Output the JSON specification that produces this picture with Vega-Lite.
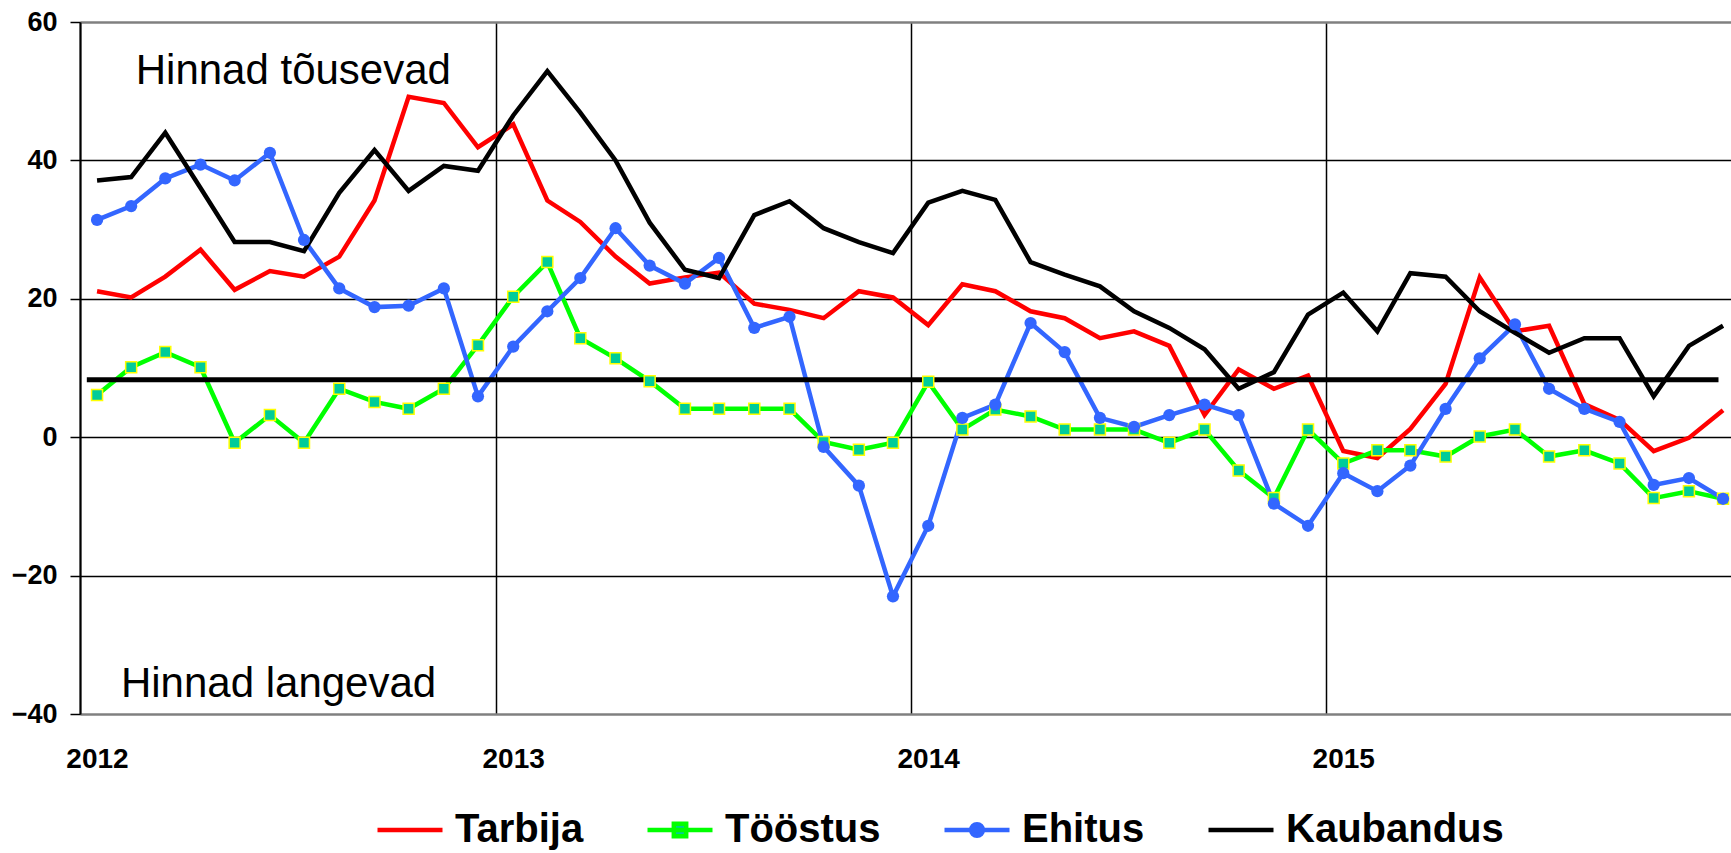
{
  "$schema": "https://vega.github.io/schema/vega-lite/v6.json",
  "autosize": {"type": "none"},
  "width": 1651,
  "height": 692,
  "padding": {"left": 80, "top": 22, "right": 0, "bottom": 139},
  "background": "white",
  "config": {"view": {"stroke": null}},
  "datasets": {
    "series": [
      {"month": "2012-01-16", "Tarbija": 21.1, "Tööstus": 6.1, "Ehitus": 31.4, "Kaubandus": 37.1},
      {"month": "2012-02-15", "Tarbija": 20.2, "Tööstus": 10.1, "Ehitus": 33.4, "Kaubandus": 37.6},
      {"month": "2012-03-16", "Tarbija": 23.2, "Tööstus": 12.3, "Ehitus": 37.4, "Kaubandus": 44.0},
      {"month": "2012-04-16", "Tarbija": 27.1, "Tööstus": 10.1, "Ehitus": 39.4, "Kaubandus": 36.0},
      {"month": "2012-05-16", "Tarbija": 21.3, "Tööstus": -0.8, "Ehitus": 37.1, "Kaubandus": 28.2},
      {"month": "2012-06-16", "Tarbija": 24.0, "Tööstus": 3.2, "Ehitus": 41.1, "Kaubandus": 28.2},
      {"month": "2012-07-16", "Tarbija": 23.2, "Tööstus": -0.8, "Ehitus": 28.5, "Kaubandus": 26.9},
      {"month": "2012-08-16", "Tarbija": 26.1, "Tööstus": 7.0, "Ehitus": 21.5, "Kaubandus": 35.3},
      {"month": "2012-09-16", "Tarbija": 34.2, "Tööstus": 5.1, "Ehitus": 18.8, "Kaubandus": 41.5},
      {"month": "2012-10-16", "Tarbija": 49.2, "Tööstus": 4.1, "Ehitus": 19.0, "Kaubandus": 35.6},
      {"month": "2012-11-16", "Tarbija": 48.3, "Tööstus": 7.0, "Ehitus": 21.5, "Kaubandus": 39.2},
      {"month": "2012-12-16", "Tarbija": 41.9, "Tööstus": 13.3, "Ehitus": 5.9, "Kaubandus": 38.5},
      {"month": "2013-01-16", "Tarbija": 45.2, "Tööstus": 20.3, "Ehitus": 13.1, "Kaubandus": 46.5},
      {"month": "2013-02-15", "Tarbija": 34.2, "Tööstus": 25.3, "Ehitus": 18.2, "Kaubandus": 52.9},
      {"month": "2013-03-16", "Tarbija": 31.1, "Tööstus": 14.3, "Ehitus": 23.0, "Kaubandus": 46.9},
      {"month": "2013-04-16", "Tarbija": 26.1, "Tööstus": 11.4, "Ehitus": 30.2, "Kaubandus": 40.0},
      {"month": "2013-05-16", "Tarbija": 22.2, "Tööstus": 8.1, "Ehitus": 24.8, "Kaubandus": 31.0},
      {"month": "2013-06-16", "Tarbija": 23.1, "Tööstus": 4.1, "Ehitus": 22.2, "Kaubandus": 24.2},
      {"month": "2013-07-16", "Tarbija": 23.8, "Tööstus": 4.1, "Ehitus": 25.9, "Kaubandus": 23.0},
      {"month": "2013-08-16", "Tarbija": 19.3, "Tööstus": 4.1, "Ehitus": 15.8, "Kaubandus": 32.1},
      {"month": "2013-09-16", "Tarbija": 18.4, "Tööstus": 4.1, "Ehitus": 17.4, "Kaubandus": 34.1},
      {"month": "2013-10-16", "Tarbija": 17.2, "Tööstus": -0.7, "Ehitus": -1.4, "Kaubandus": 30.2},
      {"month": "2013-11-16", "Tarbija": 21.1, "Tööstus": -1.8, "Ehitus": -7.0, "Kaubandus": 28.2},
      {"month": "2013-12-16", "Tarbija": 20.2, "Tööstus": -0.8, "Ehitus": -23.0, "Kaubandus": 26.6},
      {"month": "2014-01-16", "Tarbija": 16.2, "Tööstus": 8.0, "Ehitus": -12.8, "Kaubandus": 33.9},
      {"month": "2014-02-15", "Tarbija": 22.1, "Tööstus": 1.1, "Ehitus": 2.8, "Kaubandus": 35.6},
      {"month": "2014-03-16", "Tarbija": 21.1, "Tööstus": 4.0, "Ehitus": 4.7, "Kaubandus": 34.3},
      {"month": "2014-04-16", "Tarbija": 18.2, "Tööstus": 3.0, "Ehitus": 16.5, "Kaubandus": 25.3},
      {"month": "2014-05-16", "Tarbija": 17.2, "Tööstus": 1.1, "Ehitus": 12.3, "Kaubandus": 23.5},
      {"month": "2014-06-16", "Tarbija": 14.3, "Tööstus": 1.1, "Ehitus": 2.8, "Kaubandus": 21.8},
      {"month": "2014-07-16", "Tarbija": 15.3, "Tööstus": 1.1, "Ehitus": 1.5, "Kaubandus": 18.2},
      {"month": "2014-08-16", "Tarbija": 13.2, "Tööstus": -0.8, "Ehitus": 3.2, "Kaubandus": 15.8},
      {"month": "2014-09-16", "Tarbija": 3.2, "Tööstus": 1.1, "Ehitus": 4.7, "Kaubandus": 12.7},
      {"month": "2014-10-16", "Tarbija": 9.8, "Tööstus": -4.8, "Ehitus": 3.2, "Kaubandus": 7.0},
      {"month": "2014-11-16", "Tarbija": 7.0, "Tööstus": -8.8, "Ehitus": -9.6, "Kaubandus": 9.4},
      {"month": "2014-12-16", "Tarbija": 8.9, "Tööstus": 1.1, "Ehitus": -12.8, "Kaubandus": 17.7},
      {"month": "2015-01-16", "Tarbija": -2.0, "Tööstus": -3.8, "Ehitus": -5.2, "Kaubandus": 20.9},
      {"month": "2015-02-15", "Tarbija": -3.0, "Tööstus": -1.9, "Ehitus": -7.8, "Kaubandus": 15.3},
      {"month": "2015-03-16", "Tarbija": 1.2, "Tööstus": -1.9, "Ehitus": -4.1, "Kaubandus": 23.7},
      {"month": "2015-04-16", "Tarbija": 7.7, "Tööstus": -2.8, "Ehitus": 4.1, "Kaubandus": 23.2},
      {"month": "2015-05-16", "Tarbija": 23.1, "Tööstus": 0.1, "Ehitus": 11.4, "Kaubandus": 18.2},
      {"month": "2015-06-16", "Tarbija": 15.3, "Tööstus": 1.1, "Ehitus": 16.3, "Kaubandus": 15.1},
      {"month": "2015-07-16", "Tarbija": 16.1, "Tööstus": -2.8, "Ehitus": 7.0, "Kaubandus": 12.2},
      {"month": "2015-08-16", "Tarbija": 4.8, "Tööstus": -1.9, "Ehitus": 4.1, "Kaubandus": 14.3},
      {"month": "2015-09-16", "Tarbija": 2.5, "Tööstus": -3.8, "Ehitus": 2.2, "Kaubandus": 14.3},
      {"month": "2015-10-16", "Tarbija": -2.0, "Tööstus": -8.8, "Ehitus": -6.9, "Kaubandus": 5.9},
      {"month": "2015-11-16", "Tarbija": -0.1, "Tööstus": -7.8, "Ehitus": -5.9, "Kaubandus": 13.2},
      {"month": "2015-12-16", "Tarbija": 3.9, "Tööstus": -8.9, "Ehitus": -8.9, "Kaubandus": 16.1}
    ],
    "average": [{"start": "2012-01-07", "end": "2015-12-12", "avg": 8.3}],
    "notes": [
      {"date": "2012-02-19", "value": 51.1, "label": "Hinnad tõusevad"},
      {"date": "2012-02-06", "value": -37.6, "label": "Hinnad langevad"}
    ]
  },
  "layer": [
    {
      "data": {"name": "series"},
      "transform": [{"fold": ["Tarbija", "Tööstus", "Ehitus", "Kaubandus"], "as": ["series", "value"]}],
      "mark": {"type": "line", "strokeWidth": 4.5, "clip": true},
      "encoding": {
        "x": {
          "field": "month", "type": "temporal", "title": null,
          "scale": {"type": "utc", "domain": [{"year": 2012, "month": 1, "date": 1, "utc": true}, {"year": 2015, "month": 12, "date": 23, "utc": true}]},
          "axis": {
            "values": [
              {"year": 2012, "month": 1, "date": 1, "utc": true},
              {"year": 2013, "month": 1, "date": 1, "utc": true},
              {"year": 2014, "month": 1, "date": 1, "utc": true},
              {"year": 2015, "month": 1, "date": 1, "utc": true}
            ],
            "format": "%Y", "formatType": "utc",
            "grid": true, "gridColor": "black", "gridWidth": 1.5,
            "ticks": false, "tickSize": 0, "domain": false,
            "labelFont": "Liberation Sans", "labelFontSize": 28, "labelFontWeight": "bold", "labelColor": "black",
            "labelPadding": 31, "labelOffset": 17, "labelAlign": "center", "labelFlush": false, "labelOverlap": false
          }
        },
        "y": {
          "field": "value", "type": "quantitative", "title": null,
          "scale": {"domain": [-40, 60], "nice": false, "zero": false},
          "axis": {
            "values": [-40, -20, 0, 20, 40, 60],
            "grid": true,
            "gridColor": {"condition": {"test": "datum.value === 60 || datum.value === -40", "value": "#808080"}, "value": "black"},
            "gridWidth": {"condition": {"test": "datum.value === 60 || datum.value === -40", "value": 2.5}, "value": 1.5},
            "domainColor": "black", "domainWidth": 2,
            "tickColor": "black", "tickSize": 10, "tickWidth": 1.5,
            "labelFont": "Liberation Sans", "labelFontSize": 27, "labelFontWeight": "bold", "labelColor": "black",
            "labelPadding": 13
          }
        },
        "color": {
          "field": "series", "type": "nominal",
          "scale": {"domain": ["Tarbija", "Tööstus", "Ehitus", "Kaubandus"], "range": ["#FF0000", "#00FF00", "#3366FF", "#000000"]},
          "legend": {
            "title": null, "orient": "none", "legendX": 295, "legendY": 773, "direction": "horizontal",
            "symbolType": "stroke", "symbolSize": 4225, "symbolStrokeWidth": 4.5,
            "labelFont": "Liberation Sans", "labelFontSize": 40, "labelFontWeight": "bold", "labelColor": "black",
            "labelOffset": 10, "columnPadding": 54, "padding": 0, "labelLimit": 400,
            "encode": {
              "symbols": {
                "update": {
                  "shape": {"signal": "datum.value === 'Tööstus' ? 'M-1,0H1M-0.19,-0.19H0.19V0.19H-0.19Z' : (datum.value === 'Ehitus' ? 'M-1,0H1M0.18,0A0.18,0.18,0,1,1,-0.18,0A0.18,0.18,0,1,1,0.18,0' : 'stroke')"},
                  "fill": {"signal": "datum.value === 'Tööstus' ? '#00CC99' : (datum.value === 'Ehitus' ? '#3366FF' : 'transparent')"}
                }
              }
            }
          }
        },
        "order": {"field": "month", "type": "temporal"}
      }
    },
    {
      "data": {"name": "average"},
      "mark": {"type": "rule", "color": "black", "strokeWidth": 5},
      "encoding": {
        "x": {"field": "start", "type": "temporal", "title": null},
        "x2": {"field": "end"},
        "y": {"field": "avg", "type": "quantitative", "title": null}
      }
    },
    {
      "data": {"name": "series"},
      "transform": [{"fold": ["Tööstus"], "as": ["series", "value"]}],
      "mark": {"type": "point", "shape": "square", "filled": true, "fill": "#00CC99", "stroke": "#FFFF00", "strokeWidth": 1.5, "size": 121, "opacity": 1},
      "encoding": {
        "x": {"field": "month", "type": "temporal", "title": null},
        "y": {"field": "value", "type": "quantitative", "title": null}
      }
    },
    {
      "data": {"name": "series"},
      "transform": [{"fold": ["Ehitus"], "as": ["series", "value"]}],
      "mark": {"type": "point", "shape": "circle", "filled": true, "fill": "#3366FF", "stroke": null, "size": 150, "opacity": 1},
      "encoding": {
        "x": {"field": "month", "type": "temporal", "title": null},
        "y": {"field": "value", "type": "quantitative", "title": null}
      }
    },
    {
      "data": {"name": "notes"},
      "mark": {"type": "text", "align": "left", "baseline": "alphabetic", "font": "Liberation Sans", "fontSize": 42, "color": "black"},
      "encoding": {
        "x": {"field": "date", "type": "temporal", "title": null},
        "y": {"field": "value", "type": "quantitative", "title": null},
        "text": {"field": "label"}
      }
    }
  ]
}
